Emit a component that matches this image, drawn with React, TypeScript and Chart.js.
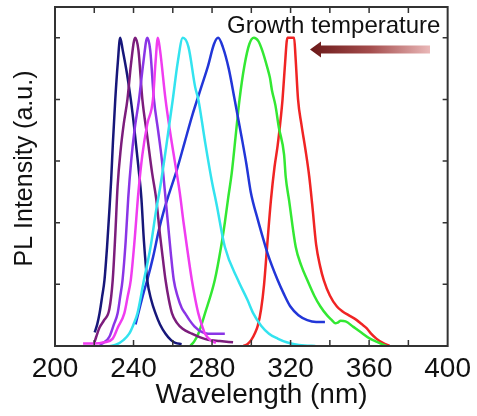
import { useEffect, useRef } from 'react';
import { Chart, registerables } from 'chart.js';

Chart.register(...registerables);

// ---- data (wavelength in nm, PL intensity in a.u.) ----
const xTickLabels = [200, 240, 280, 320, 360, 400];
const xMinorTicks = [220, 240, 260, 280, 300, 320, 340, 360, 380];
const yTickValues = [1, 2, 3, 4, 5];

const navyWl = [220.2, 221.5, 222.7, 224, 225.2, 226.5, 227.7, 228.6, 229.5, 230.7, 232, 233.2, 234.5, 236.5, 238.6, 240.5, 242.5, 244, 245.3, 247, 249, 251.2, 253.5, 256.3, 259, 261.3, 264.5];
const navyI = [0.22, 0.35, 0.53, 0.8, 1.07, 1.6, 2.2, 2.69, 3.3, 4.0, 4.6, 5.0, 4.8, 4.45, 4.0, 3.5, 2.9, 2.4, 1.7, 1.07, 0.75, 0.53, 0.35, 0.2, 0.1, 0.05, 0.03];

const purpleWl = [220, 221, 222.7, 225, 227.7, 229.4, 230.7, 231.9, 233.5, 235, 236.9, 238.8, 240.8, 242.5, 244.5, 247, 249.5, 251.5, 253.5, 255, 256.3, 258, 259.6, 262, 265, 269.7, 274, 278, 284, 290.7];
const purpleI = [0.05, 0.15, 0.3, 0.42, 0.6, 1.07, 1.8, 2.6, 3.2, 3.6, 4.0, 4.6, 5.0, 4.8, 4.0, 3.4, 2.8, 2.4, 1.8, 1.4, 1.07, 0.75, 0.53, 0.38, 0.28, 0.2, 0.14, 0.1, 0.08, 0.06];

const violetWl = [222.7, 225, 227.7, 230, 231.9, 233.2, 234.4, 236, 237.3, 238.8, 240.5, 242.8, 245, 247, 248.5, 250.4, 252.5, 254.5, 256, 257.5, 259, 260.5, 262.5, 264.5, 266.3, 268.5, 271, 274.7, 278, 282, 286.5];
const violetI = [0.02, 0.06, 0.15, 0.35, 0.53, 0.8, 1.07, 1.7, 2.4, 3.0, 3.5, 4.0, 4.6, 5.0, 4.8, 4.0, 3.5, 3.0, 2.5, 2.0, 1.5, 1.07, 0.8, 0.62, 0.53, 0.42, 0.32, 0.23, 0.2, 0.2, 0.2];

const magentaWl = [214.3, 220, 225, 229.4, 232, 235.3, 237, 238.6, 240.5, 242.5, 244.5, 247, 249.9, 251.2, 252.4, 253.5, 256.3, 258.5, 261, 263.5, 265.5, 267.2, 269.7, 271.5, 273, 275, 276.4, 279, 282];
const magentaI = [0.04, 0.04, 0.06, 0.12, 0.3, 0.53, 0.8, 1.07, 1.7, 2.5, 3.1, 3.6, 4.0, 4.6, 5.0, 4.8, 4.0, 3.5, 3.0, 2.5, 2.0, 1.61, 1.07, 0.75, 0.53, 0.32, 0.2, 0.1, 0.05];

const cyanWl = [228, 231, 235, 237.8, 240, 242, 245.3, 248.7, 251.5, 253.7, 256.5, 260, 262.5, 265.1, 268, 271.4, 273, 276.5, 279.8, 282.3, 286.5, 293.2, 298, 301, 305, 309, 313.4, 318, 322, 327, 332.6];
const cyanI = [0.0, 0.02, 0.1, 0.2, 0.35, 0.53, 1.07, 1.61, 2.2, 2.6, 3.2, 4.0, 4.6, 5.0, 4.85, 4.2, 4.0, 3.3, 2.69, 2.3, 1.61, 1.07, 0.75, 0.53, 0.33, 0.2, 0.12, 0.06, 0.03, 0.01, 0.0];

const blueWl = [241, 243, 245, 247, 250, 252.9, 255.5, 257.9, 262, 266, 270, 274.5, 278, 281, 283.1, 285.5, 288.5, 291.5, 295, 297.5, 299.7, 303.3, 305.5, 308.3, 313.4, 316.5, 319.9, 324, 328.5, 333, 337.5];
const blueI = [0.35, 0.6, 0.85, 1.07, 1.45, 1.88, 2.2, 2.45, 2.85, 3.3, 3.75, 4.2, 4.55, 4.9, 5.0, 4.85, 4.5, 4.0, 3.4, 2.95, 2.5, 2.05, 1.8, 1.5, 1.07, 0.85, 0.64, 0.5, 0.42, 0.39, 0.39];

const greenWl = [268.9, 271, 273, 276.4, 281.4, 284.6, 286.5, 288.2, 290, 292, 294, 296.5, 299, 301.3, 303.5, 305.5, 308.3, 309.5, 310.5, 312.3, 314, 316.7, 317.5, 319.2, 322.6, 325.5, 328.5, 332, 335.2, 338.5, 341, 342.7, 344, 345.5, 348, 352, 356, 360.4, 363.7, 368.8];
const greenI = [0, 0.08, 0.2, 0.53, 1.07, 1.61, 2.0, 2.4, 2.8, 3.4, 4.0, 4.55, 4.9, 5.0, 4.95, 4.8, 4.5, 4.35, 4.15, 3.9, 3.55, 3.1, 2.75, 2.37, 1.61, 1.3, 1.07, 0.82, 0.64, 0.5, 0.42, 0.37, 0.38, 0.41, 0.4, 0.31, 0.22, 0.12, 0.07, 0];

const redWl = [296, 298, 300, 302, 303.3, 305, 306.5, 308, 310, 311.8, 313.4, 315, 315.9, 317, 318.4, 321.8, 322.5, 323.8, 325.5, 327.6, 329.5, 331, 333, 335, 336.9, 340, 343.6, 346.5, 349.5, 353.7, 356, 358.7, 361, 363.7, 367, 370.4];
const redI = [0, 0.03, 0.1, 0.22, 0.33, 0.6, 1.0, 1.6, 2.37, 2.9, 3.25, 3.7, 4.0, 4.5, 5.0, 5.0, 4.7, 4.0, 3.6, 3.18, 2.75, 2.3, 1.65, 1.3, 1.07, 0.82, 0.64, 0.56, 0.5, 0.42, 0.36, 0.29, 0.2, 0.12, 0.05, 0];

const seriesList = [
  { wl: cyanWl, I: cyanI, color: '#33e3ef' },
  { wl: magentaWl, I: magentaI, color: '#f03cf0' },
  { wl: violetWl, I: violetI, color: '#8a35e6' },
  { wl: purpleWl, I: purpleI, color: '#7c1d7c' },
  { wl: navyWl, I: navyI, color: '#17177a' },
  { wl: blueWl, I: blueI, color: '#2236d8' },
  { wl: greenWl, I: greenI, color: '#33e833' },
  { wl: redWl, I: redI, color: '#f02424' },
];

const FONT = '"Liberation Sans", Arial, Helvetica, sans-serif';

const decorPlugin = {
  id: 'decor',
  afterDatasetsDraw(chart: any) {
    const { ctx, chartArea } = chart;
    const xs = chart.scales.x;
    const ys = chart.scales.y;
    const { left, right, top, bottom } = chartArea;
    ctx.save();
    // frame
    ctx.strokeStyle = '#333';
    ctx.lineWidth = 2;
    ctx.strokeRect(left, top, right - left, bottom - top);
    // inward ticks
    ctx.lineWidth = 1.5;
    ctx.beginPath();
    for (const v of xMinorTicks) {
      const px = xs.getPixelForValue(v);
      ctx.moveTo(px, bottom);
      ctx.lineTo(px, bottom - 6);
      ctx.moveTo(px, top);
      ctx.lineTo(px, top + 6);
    }
    for (const v of yTickValues) {
      const py = ys.getPixelForValue(v);
      ctx.moveTo(left, py);
      ctx.lineTo(left + 5, py);
      ctx.moveTo(right, py);
      ctx.lineTo(right - 5, py);
    }
    ctx.stroke();

    // annotation text
    ctx.fillStyle = '#111';
    ctx.textBaseline = 'alphabetic';
    ctx.textAlign = 'left';
    ctx.font = `24px ${FONT}`;
    ctx.fillText('Growth temperature', 227, 33);

    // arrow
    const ay = 49.5;
    const grad = ctx.createLinearGradient(310, 0, 430, 0);
    grad.addColorStop(0, '#6a1818');
    grad.addColorStop(0.5, '#a44c4c');
    grad.addColorStop(1, '#eab8b8');
    ctx.fillStyle = grad;
    ctx.beginPath();
    ctx.moveTo(310, ay);
    ctx.lineTo(321, ay - 8);
    ctx.lineTo(321, ay - 4);
    ctx.lineTo(430, ay - 4);
    ctx.lineTo(430, ay + 4);
    ctx.lineTo(321, ay + 4);
    ctx.lineTo(321, ay + 8);
    ctx.closePath();
    ctx.fill();

    // axis titles
    ctx.fillStyle = '#111';
    ctx.font = `28px ${FONT}`;
    ctx.textAlign = 'center';
    ctx.fillText('Wavelength (nm)', 261.5, 403);
    ctx.save();
    ctx.translate(32, 168.5);
    ctx.rotate(-Math.PI / 2);
    ctx.font = `25px ${FONT}`;
    ctx.fillText('PL Intensity (a.u.)', 0, 0);
    ctx.restore();

    ctx.restore();
  },
};

export default function App() {
  const canvasRef = useRef<HTMLCanvasElement | null>(null);

  useEffect(() => {
    const canvas = canvasRef.current;
    if (!canvas) return;
    const chart = new Chart(canvas, {
      type: 'line',
      data: {
        datasets: seriesList.map((s) => ({
          data: s.wl.map((x, i) => ({ x, y: s.I[i] })),
          borderColor: s.color,
          backgroundColor: s.color,
          borderWidth: 2.5,
          pointRadius: 0,
          fill: false,
          cubicInterpolationMode: 'monotone' as const,
        })),
      },
      options: {
        animation: false,
        responsive: false,
        devicePixelRatio: 1,
        layout: { padding: { top: 7, right: 25, left: 0, bottom: 0 } },
        plugins: {
          legend: { display: false },
          tooltip: { enabled: false },
          title: { display: false },
        },
        scales: {
          x: {
            type: 'linear',
            min: xTickLabels[0],
            max: xTickLabels[xTickLabels.length - 1],
            ticks: {
              stepSize: 40,
              autoSkip: false,
              maxRotation: 0,
              padding: 6,
              color: '#111',
              font: { family: FONT, size: 28 },
              callback: (v: any) => String(v),
            },
            grid: { display: false, drawTicks: false },
            border: { display: false },
            afterFit: (s: any) => {
              s.height = 70;
            },
          },
          y: {
            type: 'linear',
            min: 0,
            max: 5.5,
            ticks: { display: false },
            grid: { display: false, drawTicks: false },
            border: { display: false },
            afterFit: (s: any) => {
              s.width = 55;
            },
          },
        },
      } as any,
      plugins: [decorPlugin],
    });
    return () => chart.destroy();
  }, []);

  return (
    <div style={{ position: 'fixed', left: 0, top: 0, width: 477, height: 416, background: '#fff' }}>
      <canvas ref={canvasRef} width={477} height={416} />
    </div>
  );
}
